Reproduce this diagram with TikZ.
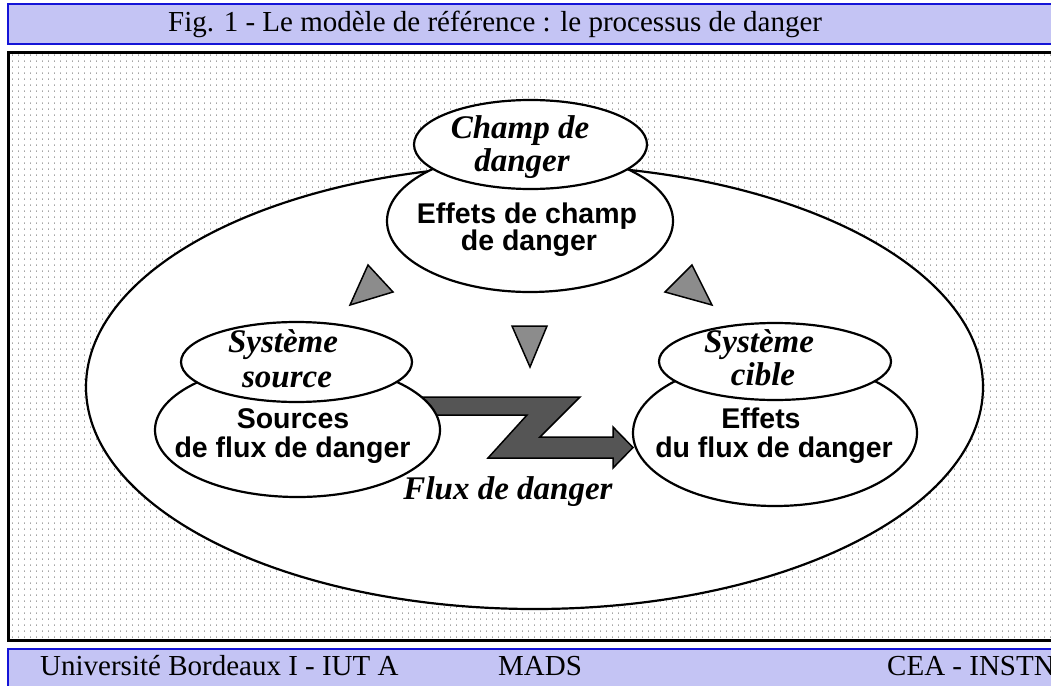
\documentclass[tikz,border=0pt]{standalone}
\usepackage{fontspec}
\setmainfont{Liberation Serif}
\newfontfamily\headsans{Liberation Sans}
\usetikzlibrary{shapes.geometric,patterns.meta}

\definecolor{barfill}{RGB}{196,196,244}
\definecolor{barline}{RGB}{20,20,215}
\definecolor{trigray}{RGB}{140,140,140}
\definecolor{flowgray}{RGB}{85,85,85}
\definecolor{gridgray}{RGB}{165,165,165}

% fine grid of small grey ticks behind the diagram
\tikzdeclarepattern{
  name=dotgrid,
  type=colored,
  bounding box={(0pt,0pt) and (6.3pt,6pt)},
  tile size={(6.3pt,6pt)},
  code={\fill[gridgray] (0pt,0pt) rectangle (1pt,2pt);}
}

\tikzset{
  zone/.style={ellipse, draw, fill=white, line width=2.2pt, inner sep=0pt},
  bar/.style={draw=barline, fill=barfill, line width=2pt},
  italabel/.style={font=\fontsize{33}{35}\selectfont\bfseries\itshape, anchor=base, inner sep=0pt},
  sanslabel/.style={font=\headsans\fontsize{28.5}{30}\selectfont\bfseries, anchor=base, inner sep=0pt},
  barlabel/.style={font=\fontsize{29}{30}\selectfont, inner sep=0pt},
  wedge/.style={draw, fill=trigray, line width=1.5pt, line join=miter},
  flow/.style={draw, fill=flowgray, line width=1.5pt, line join=miter},
}

\begin{document}
\begin{tikzpicture}[x=1pt, y=-1pt]
\useasboundingbox (0,0) rectangle (1051,685);
\clip (0,0) rectangle (1051,685);
\fill[white] (0,0) rectangle (1051,685);

% title bar
\draw[bar] (8,4) rectangle (1070,44);
\node[barlabel, anchor=base west] (title) at (168,32)
  {Fig. 1 - Le modèle de référence : le processus de danger};

% drawing panel
\fill[white] (8,53) rectangle (1070,640);
\fill[pattern=dotgrid] (8,53) rectangle (1070,640);
\draw[line width=3pt] (8,53) rectangle (1070,640);

% footer bar
\draw[bar] (8,649) rectangle (1070,700);
\node[barlabel, anchor=base west] (univ) at (40,675) {Université Bordeaux I - IUT A};
\node[barlabel, anchor=base west] (mads) at (498,675) {MADS};
\node[barlabel, anchor=base west] (cea) at (887,675) {CEA - INSTN};

% surrounding danger field
\node[zone, minimum width=897pt, minimum height=444pt] (field) at (534.5,387) {};

% zigzag danger flow
\draw[flow] (420,397) -- (580,397) -- (540,437) -- (613,437) -- (613,427)
  -- (633,447.5) -- (613,468) -- (613,458) -- (488,458) -- (527,415)
  -- (420,415) -- cycle;

% influence wedges
\draw[wedge] (368,265) -- (393,292) -- (350,305) -- cycle;
\draw[wedge] (692,265) -- (665,292) -- (712,305) -- cycle;
\draw[wedge] (512,326) -- (547,326) -- (530,367) -- cycle;

% field effects and field name
\node[zone, minimum width=286pt, minimum height=142pt] (fieldfx) at (530,221) {};
\node[zone, minimum width=233pt, minimum height=89pt] (fieldname) at (530.5,144.5) {};

% source system
\node[zone, minimum width=285pt, minimum height=134pt] (srcfx) at (297.5,430) {};
\node[zone, minimum width=231pt, minimum height=80pt] (srcname) at (296.5,362) {};

% target system
\node[zone, minimum width=284pt, minimum height=146pt] (tgtfx) at (775,433) {};
\node[zone, minimum width=232pt, minimum height=77pt] (tgtname) at (775,361.5) {};

% labels
\node[italabel] (champa) at (520,138) {Champ de};
\node[italabel] (champb) at (522,171) {danger};
\node[sanslabel] (fxa) at (527,223) {Effets de champ};
\node[sanslabel] (fxb) at (529,250) {de danger};

\node[italabel] (srca) at (283,352) {Système};
\node[italabel] (srcb) at (287,387) {source};
\node[sanslabel] (srcfa) at (293,428) {Sources};
\node[sanslabel] (srcfb) at (292.5,457) {de flux de danger};

\node[italabel] (tgta) at (759,352) {Système};
\node[italabel] (tgtb) at (763,385) {cible};
\node[sanslabel] (tgtfa) at (761,428) {Effets};
\node[sanslabel] (tgtfb) at (774,457) {du flux de danger};

\node[italabel] (flux) at (508,499) {Flux de danger};
\end{tikzpicture}
\end{document}
